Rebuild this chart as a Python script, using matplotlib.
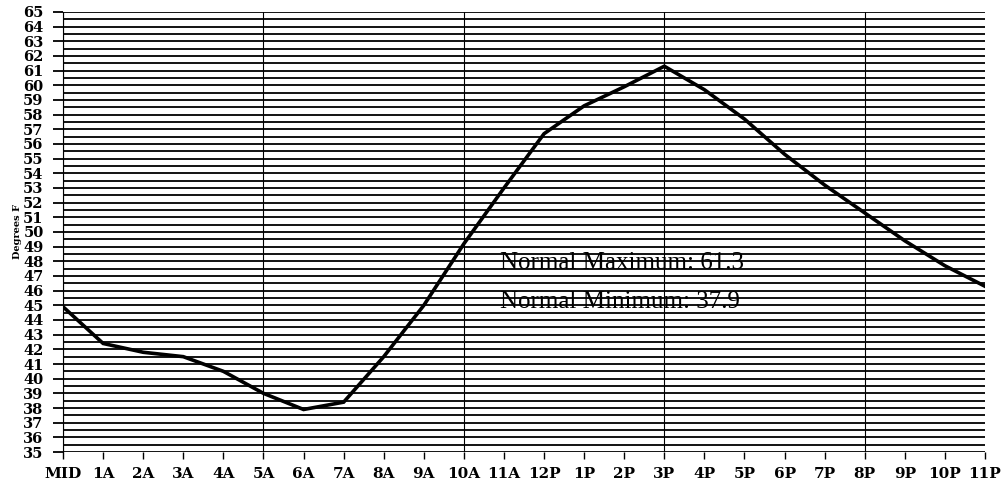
import numpy as np
import matplotlib.pyplot as plt
from matplotlib.ticker import MultipleLocator

# hourly normal temperature (deg F)
hour_labels = ["MID", "1A", "2A", "3A", "4A", "5A", "6A", "7A", "8A", "9A", "10A", "11A",
               "12P", "1P", "2P", "3P", "4P", "5P", "6P", "7P", "8P", "9P", "10P", "11P"]
temps = [44.9, 42.4, 41.8, 41.5, 40.5, 39.0, 37.9, 38.4, 41.5, 45.0, 49.2, 53.0,
         56.7, 58.6, 59.9, 61.3, 59.7, 57.7, 55.3, 53.2, 51.3, 49.4, 47.7, 46.3]
normal_max = 61.3
normal_min = 37.9

hours = np.arange(len(hour_labels))
serif_bold = dict(family="DejaVu Serif", fontweight="bold")

fig = plt.figure(figsize=(10.01, 4.82), dpi=100)
ax = fig.add_axes([0.063, 0.0622, 0.921, 0.913])

ax.set_xlim(0, 23)
ax.set_ylim(35, 65)

# dense black horizontal rules every half degree, vertical rules every 5 hours
ax.yaxis.set_major_locator(MultipleLocator(1))
ax.yaxis.set_minor_locator(MultipleLocator(0.5))
ax.grid(which="both", axis="y", color="black", lw=1.3)
for xv in range(0, 24, 5):
    ax.axvline(xv, color="black", lw=0.8, zorder=1)

ax.plot(hours, temps, color="black", lw=2.6, zorder=3, solid_joinstyle="miter")

ax.set_xticks(hours, hour_labels)
ax.tick_params(axis="x", length=5, width=1, pad=6, labelsize=11)
ax.tick_params(axis="y", which="major", length=7, width=1.3, pad=7, labelsize=10.5)
ax.tick_params(axis="y", which="minor", length=0)
for lbl in ax.get_xticklabels() + ax.get_yticklabels():
    lbl.set_fontfamily("DejaVu Serif")
    lbl.set_fontweight("bold")

for side in ("top", "right", "bottom"):
    ax.spines[side].set_visible(False)
ax.spines["left"].set_linewidth(0.8)

ax.set_ylabel("Degrees F", fontsize=7, labelpad=1, **serif_bold)

ax.text(10.9, 47.9, f"Normal Maximum: {normal_max}", fontsize=18,
        family="Liberation Serif", va="center", ha="left", zorder=4)
ax.text(10.9, 45.2, f"Normal Minimum: {normal_min}", fontsize=18,
        family="Liberation Serif", va="center", ha="left", zorder=4)

fig.savefig("out.png", dpi=100, facecolor="white")
